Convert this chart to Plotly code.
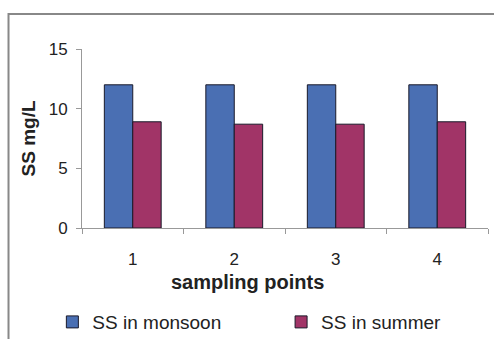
import plotly.graph_objects as go

categories = ["1", "2", "3", "4"]
monsoon = [12.0, 12.0, 12.0, 12.0]
summer = [8.9, 8.7, 8.7, 8.9]
y_ticks = [0, 5, 10, 15]

FONT = "Liberation Sans, Arial, sans-serif"

fig = go.Figure()
fig.add_trace(go.Bar(x=categories, y=monsoon, name="SS in monsoon", legend="legend",
                     marker=dict(color="#4A6FB3", line=dict(color="#1a1a2a", width=1))))
fig.add_trace(go.Bar(x=categories, y=summer, name="SS in summer", legend="legend2",
                     marker=dict(color="#A13467", line=dict(color="#1a1a2a", width=1))))

leg_common = dict(orientation="h", xref="container", yref="container",
                  y=0.05, xanchor="left", yanchor="middle",
                  itemwidth=30, font=dict(size=19), bgcolor="rgba(0,0,0,0)")

fig.update_layout(
    width=494, height=339,
    margin=dict(l=82, r=6, t=49, b=111, autoexpand=False),
    paper_bgcolor="white", plot_bgcolor="white",
    font=dict(family=FONT, size=16, color="#222"),
    barmode="group", bargap=0.44, bargroupgap=0,
    showlegend=True,
    legend=dict(x=0.106, **leg_common),
    legend2=dict(x=0.569, **leg_common),
    xaxis=dict(type="category", showline=True, linecolor="#999", linewidth=1,
               ticks="outside", tickson="boundaries", ticklen=5, tickcolor="#999",
               showgrid=False, tickfont=dict(size=17), range=[-0.5, 3.5],
               ticklabelstandoff=16, automargin=False),
    yaxis=dict(range=[0, 15], tickvals=y_ticks, showline=True, linecolor="#999", linewidth=1,
               ticks="outside", ticklen=5, tickcolor="#999", showgrid=False,
               zeroline=False, tickfont=dict(size=17), ticklabelstandoff=5, automargin=False,
               title=dict(text="<b>SS mg/L</b>", font=dict(size=19), standoff=8)),
    annotations=[dict(text="<b>sampling points</b>", xref="paper", yref="paper",
                      x=0.408, y=-0.30, xanchor="center", yanchor="middle",
                      showarrow=False, font=dict(size=20, color="#222"))],
    shapes=[dict(type="rect", xref="paper", yref="paper",
                 x0=-0.181, x1=1.2, y0=-0.9, y1=1.196,
                 line=dict(color="#888", width=2), layer="below")],
)

fig.write_html("out.html")
